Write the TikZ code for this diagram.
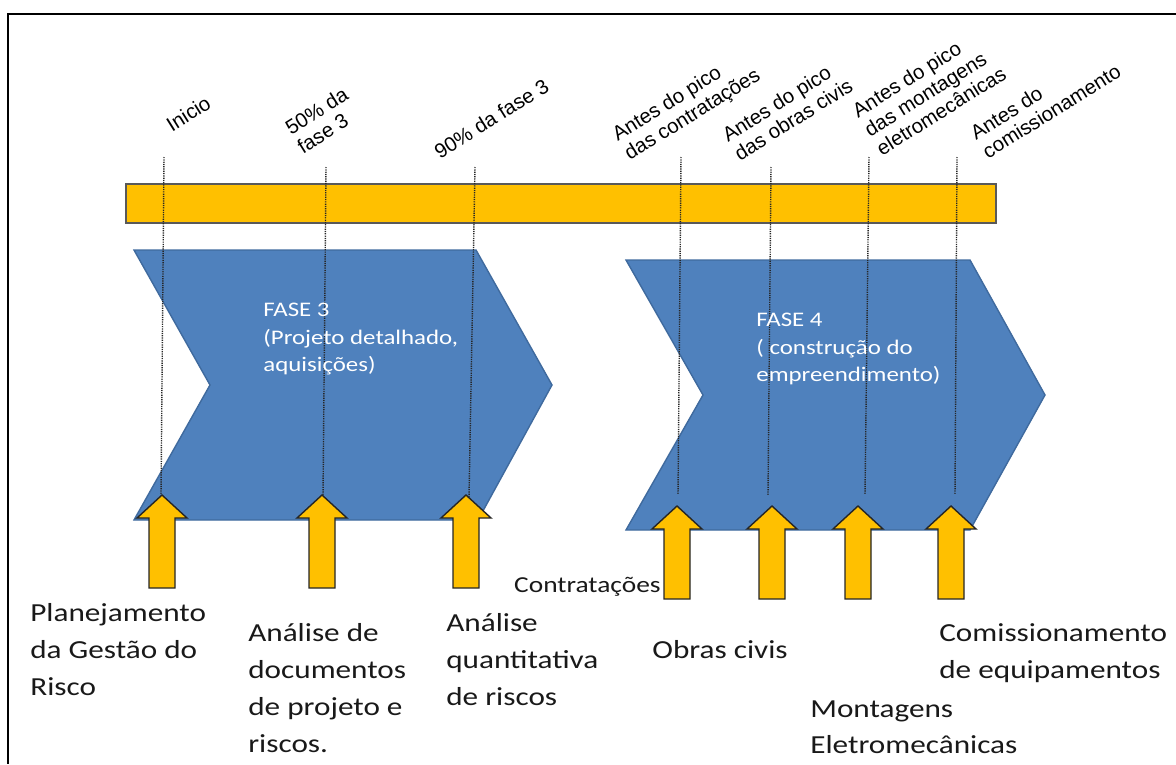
\documentclass[tikz,border=0pt]{standalone}
\usepackage{fontspec}
\newfontfamily\arialfont{Liberation Sans}
\newfontfamily\calibfont[FakeStretch=1.2]{Carlito}
\usetikzlibrary{calc}
\definecolor{barorange}{HTML}{FFC000}
\definecolor{phaseblue}{HTML}{4F81BD}
\definecolor{phaseedge}{HTML}{3F6A9E}
\def\blockarrow(#1,#2){\draw[uparrow] (#1,#2) -- ++(25,23) -- ++(-12,0) -- ++(0,70) -- ++(-26,0) -- ++(0,-70) -- ++(-12,0) -- cycle;}

\begin{document}
\begin{tikzpicture}[x=0.02cm, y=-0.02cm,
	uparrow/.style={fill=barorange, draw=black!85, line width=0.8pt, line join=miter},
	tickline/.style={black!85, line width=0.8pt, dash pattern=on 0.7pt off 0.6pt},
	toplabel/.style={font=\arialfont\fontsize{11.6}{12.8}\selectfont, align=left, rotate=32, anchor=south west, inner sep=0pt},
	botlabel/.style={font=\calibfont\fontsize{14.8}{21}\selectfont, align=left, anchor=north west, inner sep=0pt, text=black!90},
	phasetext/.style={font=\calibfont\fontsize{11.8}{15.6}\selectfont, align=left, anchor=north west, inner sep=0pt, text=white}]
		%%%%% START %%%%%
		\useasboundingbox (0,0) rectangle (1176,764);
		\draw[line width=1.4pt] (1176,14) -- (8,14) -- (8,764);
		
		% time bar
		\draw[fill=barorange, draw=black!65, line width=0.8pt] (126,184) rectangle (996,223);
		
		% phases
		\draw[fill=phaseblue, draw=phaseedge, line width=0.8pt] (134,250) -- (476,250) -- (552,385) -- (478,520) -- (134,520) -- (210,385) -- cycle;
		\draw[fill=phaseblue, draw=phaseedge, line width=0.8pt] (626,260) -- (970,260) -- (1045,395) -- (970,530) -- (626,530) -- (703,395) -- cycle;
		
		% milestones
		\foreach \n/\xa/\ya/\xb/\yb in {1/164/157/161/495, 2/326/167/323/497, 3/475/167/469/497, 4/681/157/678/495, 5/771/167/768/495, 6/869/157/865/495, 7/957/157/955/495}{
			\coordinate (t\n) at (\xa,\ya);
			\coordinate (e\n) at (\xb,\yb);
			\draw[tickline] (t\n) -- (e\n);
		}
		
		\blockarrow(162,495)
		\blockarrow(322,495)
		\blockarrow(466,495)
		\blockarrow(677,506)
		\blockarrow(772,506)
		\blockarrow(858,506)
		\blockarrow(951,506)
		
		\node[toplabel] (inicio) at (172,133) {Inicio};
		\node[toplabel] (meio) at (303,155) {50\% da\\fase 3};
		\node[toplabel] (noventa) at (440,160) {90\% da fase 3};
		\node[toplabel] (picocontr) at (632,165) {Antes do pico\\das contratações};
		\node[toplabel] (picoobras) at (740,162) {Antes do pico\\das obras civis};
		\node[toplabel] (picomont) at (882,157) {Antes do pico\\das montagens\\eletromecânicas};
		\node[toplabel] (antescomis) at (988,160) {Antes do\\comissionamento};
		
		\node[phasetext] (fase3) at (263,303) {FASE 3\\(Projeto detalhado,\\aquisições)};
		\node[phasetext] (fase4) at (756,313) {FASE 4\\( construção do\\empreendimento)};
		
		\node[botlabel] (planej) at (30,603) {Planejamento\\da Gestão do\\Risco};
		\node[botlabel] (docs) at (248,623) {Análise de\\documentos\\de projeto e\\riscos.};
		\node[botlabel] (quant) at (446,613) {Análise\\quantitativa\\de riscos};
		\node[botlabel] (obrascivis) at (652,640) {Obras civis};
		\node[botlabel] (comiss) at (939,623) {Comissionamento\\de equipamentos};
		\node[botlabel] (montag) at (810,700) {Montagens\\Eletromecânicas};
		\node[font=\calibfont\fontsize{13}{15}\selectfont, anchor=base east, inner sep=0pt, text=black!90] (contrat) at (661,592) {Contratações};
		%%%%% END %%%%%
\end{tikzpicture}
\end{document}
